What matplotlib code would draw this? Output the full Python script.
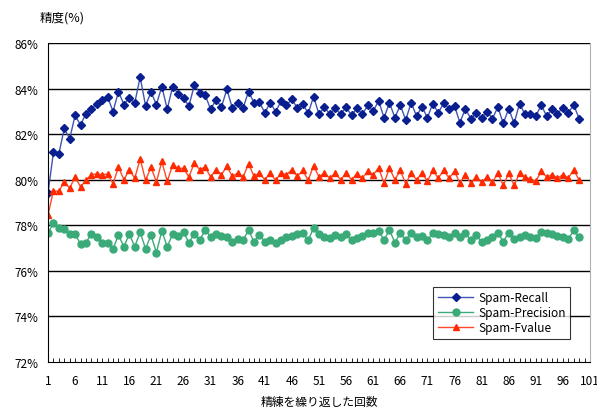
import matplotlib
matplotlib.use("Agg")
import matplotlib.pyplot as plt
import numpy as np

plt.rcParams["font.family"] = ["Noto Sans CJK JP", "DejaVu Sans"]

# 精練の回数ごとの精度(%)
recall = [
    79.41, 81.20, 81.13, 82.25, 81.80, 82.82, 82.40, 82.90, 83.09, 83.34,
    83.50, 83.63, 82.99, 83.87, 83.30, 83.60, 83.37, 84.50, 83.25, 83.85,
    83.30, 84.09, 83.10, 84.09, 83.78, 83.57, 83.24, 84.15, 83.82, 83.72,
    83.09, 83.50, 83.19, 83.97, 83.15, 83.38, 83.15, 83.87, 83.38, 83.41,
    82.94, 83.38, 82.99, 83.44, 83.26, 83.54, 83.13, 83.34, 82.91, 83.65,
    82.87, 83.19, 82.87, 83.13, 82.87, 83.19, 82.82, 83.13, 82.87, 83.26,
    83.01, 83.46, 82.72, 83.38, 82.72, 83.28, 82.62, 83.38, 82.79, 83.21,
    82.72, 83.34, 82.94, 83.35, 83.12, 83.24, 82.50, 83.12, 82.68, 82.91,
    82.72, 82.99, 82.68, 83.19, 82.47, 83.12, 82.47, 83.34, 82.87, 82.87,
    82.79, 83.28, 82.79, 83.09, 82.90, 83.16, 82.94, 83.28, 82.68,
]
precision = [
    77.65, 78.09, 77.90, 77.82, 77.62, 77.60, 77.18, 77.24, 77.62, 77.50,
    77.24, 77.24, 76.97, 77.57, 77.06, 77.62, 77.06, 77.70, 76.97, 77.57,
    76.80, 77.75, 77.06, 77.62, 77.54, 77.70, 77.24, 77.62, 77.35, 77.79,
    77.50, 77.62, 77.54, 77.50, 77.28, 77.38, 77.35, 77.79, 77.28, 77.57,
    77.28, 77.35, 77.24, 77.35, 77.50, 77.54, 77.62, 77.65, 77.35, 77.87,
    77.62, 77.50, 77.43, 77.57, 77.50, 77.62, 77.35, 77.43, 77.54, 77.68,
    77.65, 77.76, 77.35, 77.79, 77.24, 77.65, 77.35, 77.65, 77.50, 77.54,
    77.35, 77.65, 77.62, 77.57, 77.50, 77.65, 77.50, 77.65, 77.35, 77.57,
    77.28, 77.35, 77.50, 77.68, 77.28, 77.68, 77.38, 77.50, 77.57, 77.50,
    77.43, 77.72, 77.65, 77.62, 77.53, 77.50, 77.38, 77.79, 77.47,
]
fvalue = [
    78.46, 79.51, 79.49, 79.90, 79.63, 80.12, 79.69, 79.97, 80.22, 80.26,
    80.22, 80.25, 79.82, 80.56, 80.00, 80.44, 80.06, 80.91, 79.97, 80.56,
    79.90, 80.80, 79.93, 80.65, 80.50, 80.50, 80.12, 80.74, 80.44, 80.56,
    80.12, 80.44, 80.22, 80.59, 80.15, 80.29, 80.12, 80.71, 80.15, 80.29,
    80.00, 80.29, 79.97, 80.29, 80.22, 80.44, 80.15, 80.41, 79.97, 80.62,
    80.12, 80.29, 80.07, 80.29, 80.00, 80.29, 80.00, 80.26, 80.07, 80.37,
    80.22, 80.51, 79.85, 80.51, 80.00, 80.41, 79.82, 80.29, 80.00, 80.29,
    79.93, 80.41, 80.07, 80.41, 80.07, 80.37, 79.85, 80.22, 79.85, 80.12,
    79.88, 80.12, 79.88, 80.29, 79.75, 80.29, 79.75, 80.29, 80.12, 80.03,
    79.93, 80.37, 80.12, 80.22, 80.07, 80.22, 80.07, 80.44, 79.97,
]
kaisuu = np.arange(1, len(recall) + 1)
x_labels = list(range(1, 102, 5))
y_ticks = list(range(72, 87, 2))

fig = plt.figure(figsize=(5.97, 4.10), dpi=100)
ax = fig.add_axes([48 / 597, 47 / 410, 542 / 597, 319 / 410])

ax.plot(kaisuu, recall, color="#3f55b5", lw=1, marker="D", ms=3.6,
        mfc="#0a1f8f", mec="#0a1f8f", label="Spam-Recall")
ax.plot(kaisuu, precision, color="#3aaa78", lw=1, marker="o", ms=5,
        mfc="#3aaa78", mec="#3aaa78", label="Spam-Precision")
ax.plot(kaisuu, fvalue, color="#ff4a2a", lw=1, marker="^", ms=5,
        mfc="#ff2a00", mec="#ff2a00", label="Spam-Fvalue")

ax.set_xlim(1, 101)
ax.set_ylim(72, 86)
ax.set_yticks(y_ticks)
ax.set_yticklabels([f"{v}%" for v in y_ticks], fontsize=8.5)
ax.set_xticks(x_labels)
ax.set_xticklabels([str(v) for v in x_labels], fontsize=8.5)
ax.set_xticks(range(1, 102), minor=True)
ax.tick_params(axis="x", which="both", direction="in", length=3, width=0.6, pad=9)
ax.tick_params(axis="y", length=0, pad=7)

for v in y_ticks[1:]:
    ax.axhline(v, color="black", lw=1, zorder=0)

ax.spines["top"].set_visible(False)
ax.spines["right"].set_color("#b0b0b0")
ax.spines["left"].set_color("black")
ax.spines["bottom"].set_color("black")

ax.set_xlabel("精練を繰り返した回数", fontsize=8.5, labelpad=5)
fig.text(40 / 597, 1 - 18 / 410, "精度(%)", fontsize=9, va="center", ha="left")

leg = ax.legend(loc="lower left", bbox_to_anchor=(0.7, 0.055, 0.25, 0.18),
                fontsize=8.5, frameon=True, fancybox=False, borderpad=0.4,
                handlelength=3, handletextpad=0.4, labelspacing=0.15)
leg.get_frame().set_edgecolor("black")
leg.get_frame().set_linewidth(0.8)

fig.savefig("out.png", dpi=100)
